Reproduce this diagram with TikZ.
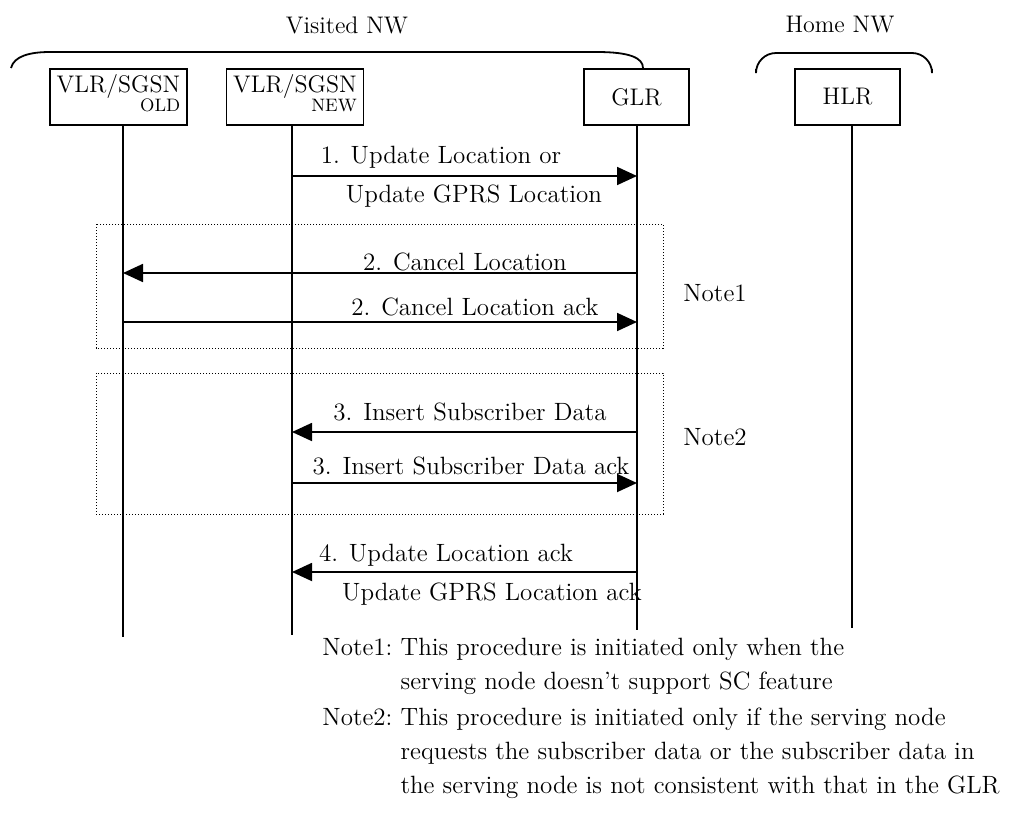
\documentclass[tikz,border=0pt]{standalone}
\usetikzlibrary{arrows.meta}
\begin{document}
\begin{tikzpicture}[x=0.5pt,y=-0.5pt,
  every node/.style={font=\fontsize{12.5}{14}\selectfont},
  entity/.style={draw,line width=0.9pt,minimum height=28pt,inner sep=0pt,font=\fontsize{12}{13}\selectfont},
  vlr/.style={entity,minimum width=68.5pt},
  core/.style={entity,minimum width=52.5pt},
  life/.style={line width=0.9pt},
  msg/.style={line width=0.9pt,-{Triangle[length=10pt,width=9pt]}},
  lbl/.style={inner sep=0pt},
  group/.style={line width=0.5pt,dash pattern=on 0.6pt off 0.9pt},
  brace/.style={line width=0.9pt},
  note/.style={inner sep=0pt,anchor=base west,font=\fontsize{12.5}{17}\selectfont}]
\useasboundingbox (0,0) rectangle (1016,814);

% network labels and braces
\node[lbl,font=\fontsize{12}{13}\selectfont] (vnw) at (347,25) {Visited NW};
\node[lbl,font=\fontsize{12}{13}\selectfont] (hnw) at (840,25) {Home NW};
\draw[brace] (11,68) .. controls (14,56) and (30,52) .. (50,52) -- (597,52)
  .. controls (630,52) and (643,58) .. (643,68);
\draw[brace,rounded corners=10pt] (756,69) -- (756,53) -- (932,53) -- (932,69);

% entities
\node[vlr] (old) at (118.5,97) {\begin{tabular}{@{}r@{}}VLR/SGSN\\[-3.5pt]{\fontsize{9}{10}\selectfont OLD}\end{tabular}};
\node[vlr] (new) at (295,97) {\begin{tabular}{@{}r@{}}VLR/SGSN\\[-3.5pt]{\fontsize{9}{10}\selectfont NEW}\end{tabular}};
\node[core] (glr) at (636.5,97) {GLR};
\node[core] (hlr) at (847.5,97) {HLR};

% lifelines
\coordinate (oldend) at (123,637);
\coordinate (newend) at (292,635);
\coordinate (glrend) at (637,630);
\coordinate (hlrend) at (852,628);
\draw[life] (oldend |- old.south) -- (oldend);
\draw[life] (newend |- new.south) -- (newend);
\draw[life] (glrend |- glr.south) -- (glrend);
\draw[life] (hlrend |- hlr.south) -- (hlrend);

% groups
\draw[group] (96,224) rectangle (663,348);
\draw[group] (96,373) rectangle (663,514);
\node[lbl] (n1) at (715,293) {Note1};
\node[lbl] (n2) at (715,437) {Note2};

% messages
\coordinate (m1) at (0,176);
\coordinate (m2) at (0,273);
\coordinate (m3) at (0,322);
\coordinate (m4) at (0,432);
\coordinate (m5) at (0,483);
\coordinate (m6) at (0,572);
\draw[msg] (newend |- m1) -- (glrend |- m1);
\draw[msg] (glrend |- m2) -- (oldend |- m2);
\draw[msg] (oldend |- m3) -- (glrend |- m3);
\draw[msg] (glrend |- m4) -- (newend |- m4);
\draw[msg] (newend |- m5) -- (glrend |- m5);
\draw[msg] (glrend |- m6) -- (newend |- m6);

\node[lbl] (l1a) at (441,157) {1. Update Location or};
\node[lbl] (l1b) at (474,196) {Update GPRS Location};
\node[lbl] (l2a) at (465,262) {2. Cancel Location};
\node[lbl] (l2b) at (475,307) {2. Cancel Location ack};
\node[lbl] (l3a) at (470,412) {3. Insert Subscriber Data};
\node[lbl] (l3b) at (471,466) {3. Insert Subscriber Data ack};
\node[lbl] (l4a) at (446,555) {4. Update Location ack};
\node[lbl] (l4b) at (492,594) {Update GPRS Location ack};

% notes
\node[note] (note1) at (322,655) {\begin{tabular}[t]{@{}l@{\ }l@{}}Note1: & This procedure is initiated only when the\\ & serving node doesn't support SC feature\end{tabular}};
\node[note] (note2) at (322,725) {\begin{tabular}[t]{@{}l@{\ }l@{}}Note2: & This procedure is initiated only if the serving node\\ & requests the subscriber data or the subscriber data in\\ & the serving node is not consistent with that in the GLR\end{tabular}};
\end{tikzpicture}
\end{document}
